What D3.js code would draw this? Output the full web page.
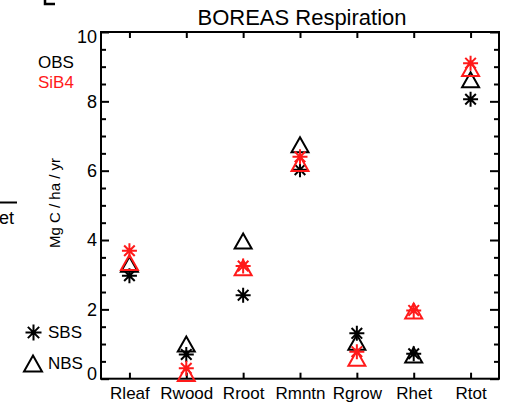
<!DOCTYPE html>
<html>
<head>
<meta charset="utf-8">
<script src="https://cdn.jsdelivr.net/npm/d3@7"></script>
<style>
  html, body { margin: 0; padding: 0; background: #fff; }
  svg { display: block; }
  text { font-family: "Liberation Sans", Arial, Helvetica, sans-serif; }
</style>
</head>
<body>
<script>
// Respiration components (Mg C / ha / yr) at the southern (SBS) and northern (NBS) BOREAS sites
const categories = ["Rleaf", "Rwood", "Rroot", "Rmntn", "Rgrow", "Rhet", "Rtot"];
const obsSBS  = [2.97, 0.70, 2.41, 6.03, 1.31, 0.72, 8.06];
const obsNBS  = [3.30, 1.00, 3.97, 6.75, 1.05, 0.68, 8.62];
const sib4SBS = [3.69, 0.30, 3.25, 6.40, 0.78, 1.97, 9.10];
const sib4NBS = [3.35, 0.15, 3.20, 6.21, 0.59, 1.95, 8.95];
const yTickValues = [0, 2, 4, 6, 8, 10];
const yMinorValues = [0.5, 1, 1.5, 2.5, 3, 3.5, 4.5, 5, 5.5, 6.5, 7, 7.5, 8.5, 9, 9.5];

const W = 508, H = 406;
const plotL = 101, plotR = 499, plotT = 32, plotB = 378.7;
const BLACK = "#000", RED = "#ff1a1a";

const svg = d3.select("body").append("svg")
  .attr("width", W).attr("height", H);

const x = d3.scalePoint().domain(categories).range([plotL, plotR]).padding(0.5);
const y = d3.scaleLinear().domain([0, 10]).range([plotB, plotT]);

// Fragments of the neighbouring panels at the left edge
svg.append("path").attr("d", "M45,0V4H55").attr("fill", "none")
  .attr("stroke", "#000").attr("stroke-width", 2.5);
svg.append("line").attr("x1", 0).attr("x2", 17).attr("y1", 202.5).attr("y2", 202.5)
  .attr("stroke", "#000").attr("stroke-width", 2);
svg.append("text").attr("x", -1).attr("y", 224).attr("font-size", 18).text("et");

// Title
svg.append("text").attr("x", (plotL + plotR) / 2 + 2).attr("y", 25)
  .attr("text-anchor", "middle").attr("font-size", 22)
  .text("BOREAS Respiration");

// Y axis title
svg.append("text")
  .attr("transform", "translate(60,203) rotate(-90)")
  .attr("text-anchor", "middle").attr("font-size", 15)
  .text("Mg C / ha / yr");

// Axes: ticks point inward on all four sides
function styleAxis(g) {
  g.select(".domain").remove();
  g.selectAll(".tick line").attr("stroke", "#000").attr("stroke-width", 2);
}

const gLeftMajor = svg.append("g").attr("transform", `translate(${plotL},0)`)
  .call(d3.axisLeft(y).tickValues(yTickValues).tickSize(-8).tickPadding(4)
    .tickFormat(d3.format("d")))
  .call(styleAxis);
gLeftMajor.selectAll("text").attr("font-size", 18).attr("fill", "#000")
  .attr("font-family", "Liberation Sans, Arial, sans-serif");
// keep the end labels inside the axis span
gLeftMajor.selectAll(".tick").each(function (d) {
  const t = d3.select(this).select("text");
  if (d === 10) t.attr("y", 5);
  if (d === 0) t.attr("y", -5);
});

svg.append("g").attr("transform", `translate(${plotL},0)`)
  .call(d3.axisLeft(y).tickValues(yMinorValues).tickSize(-5).tickFormat(""))
  .call(styleAxis);

svg.append("g").attr("transform", `translate(${plotR},0)`)
  .call(d3.axisRight(y).tickValues(yTickValues).tickSize(-9).tickFormat(""))
  .call(styleAxis);
svg.append("g").attr("transform", `translate(${plotR},0)`)
  .call(d3.axisRight(y).tickValues(yMinorValues).tickSize(-5).tickFormat(""))
  .call(styleAxis);

const gBottom = svg.append("g").attr("transform", `translate(0,${plotB})`)
  .call(d3.axisBottom(x).tickSize(-6).tickPadding(8))
  .call(styleAxis);
gBottom.selectAll("text").attr("font-size", 17).attr("fill", "#000")
  .attr("font-family", "Liberation Sans, Arial, sans-serif");

svg.append("g").attr("transform", `translate(0,${plotT})`)
  .call(d3.axisTop(x).tickSize(-6).tickFormat(""))
  .call(styleAxis);

// Frame
svg.append("rect").attr("x", plotL).attr("y", plotT)
  .attr("width", plotR - plotL).attr("height", plotB - plotT)
  .attr("fill", "none").attr("stroke", "#000").attr("stroke-width", 2);

// Marker shapes
const starR = 7.5;
function starPath(r) {
  const d = r * Math.SQRT1_2;
  return `M${-r},0H${r}M0,${-r}V${r}M${-d},${-d}L${d},${d}M${-d},${d}L${d},${-d}`;
}
function trianglePath(w, h) {
  return `M0,${-h / 2}L${w / 2},${h / 2}L${-w / 2},${h / 2}Z`;
}

function drawSeries(values, shape, color) {
  svg.append("g").selectAll("path")
    .data(values.map((v, i) => ({ cat: categories[i], v })))
    .join("path")
    .attr("transform", d => `translate(${x(d.cat)},${y(d.v)})`)
    .attr("d", shape === "star" ? starPath(starR) : trianglePath(17, 15))
    .attr("fill", "none").attr("stroke", color).attr("stroke-width", 2)
    .attr("stroke-linejoin", "miter");
}

drawSeries(obsSBS, "star", BLACK);
drawSeries(obsNBS, "tri", BLACK);
drawSeries(sib4SBS, "star", RED);
drawSeries(sib4NBS, "tri", RED);

// Legend: data source (colour)
svg.append("text").attr("x", 38).attr("y", 68).attr("font-size", 17)
  .attr("fill", BLACK).text("OBS");
svg.append("text").attr("x", 38).attr("y", 88).attr("font-size", 17)
  .attr("fill", RED).text("SiB4");

// Legend: site (symbol)
svg.append("path").attr("transform", "translate(33.5,332.5)")
  .attr("d", starPath(8)).attr("fill", "none").attr("stroke", BLACK).attr("stroke-width", 2);
svg.append("text").attr("x", 48).attr("y", 338).attr("font-size", 17).text("SBS");
svg.append("path").attr("transform", "translate(33,363.5)")
  .attr("d", trianglePath(18, 16)).attr("fill", "none").attr("stroke", BLACK).attr("stroke-width", 2);
svg.append("text").attr("x", 48).attr("y", 369).attr("font-size", 17).text("NBS");
</script>
</body>
</html>
